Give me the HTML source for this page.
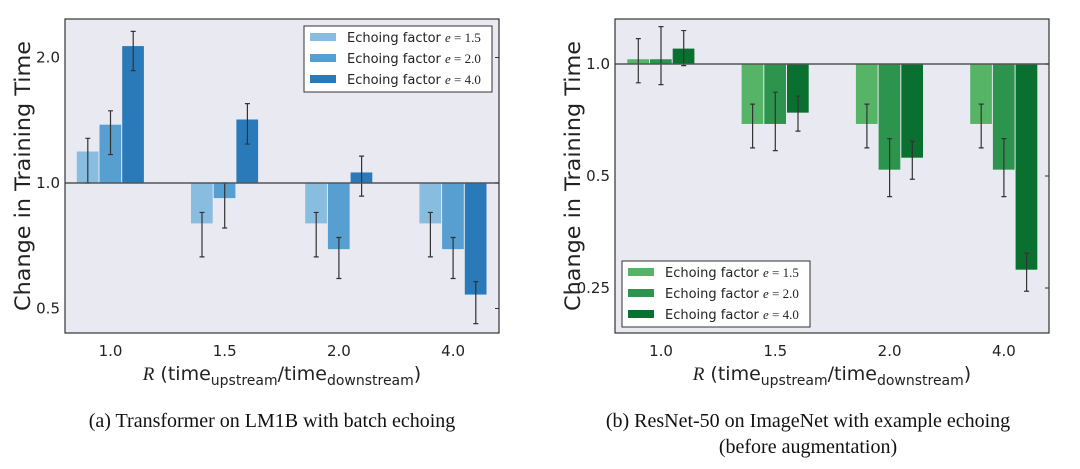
<!DOCTYPE html>
<html><head><meta charset="utf-8"><style>
body{margin:0;background:#fff;width:1080px;height:469px;overflow:hidden}
svg{display:block;font-family:"DejaVu Sans","Liberation Sans",sans-serif}
.cap{font-family:"Liberation Serif",serif;font-size:20px;fill:#111}
</style></head><body>
<svg id="fig" width="1080" height="469"></svg>
<script>
const categories=["1.0","1.5","2.0","4.0"];
const seriesNames=["e = 1.5","e = 2.0","e = 4.0"];
const leftVals=[[1.19,0.80,0.80,0.80],[1.38,0.92,0.694,0.694],[2.13,1.42,1.06,0.54]];
const leftLo=[[1.0,0.665,0.665,0.665],[1.17,0.78,0.59,0.59],[1.86,1.24,0.93,0.46]];
const leftHi=[[1.28,0.85,0.85,0.85],[1.49,1.0,0.74,0.74],[2.31,1.55,1.16,0.58]];
const rightVals=[[1.03,0.69,0.69,0.69],[1.03,0.69,0.52,0.52],[1.10,0.74,0.56,0.28]];
const rightLo=[[0.89,0.595,0.595,0.595],[0.88,0.585,0.44,0.44],[0.99,0.66,0.49,0.245]];
const rightHi=[[1.17,0.78,0.78,0.78],[1.26,0.84,0.63,0.63],[1.23,0.82,0.62,0.31]];
const leftTicks=[0.5,1.0,2.0];
const rightTicks=[0.25,0.5,1.0];
const NS="http://www.w3.org/2000/svg";
const svg=document.getElementById("fig");
function el(t,a,p){const e=document.createElementNS(NS,t);for(const k in a)e.setAttribute(k,a[k]);(p||svg).appendChild(e);return e;}
function panel(o){
  const g=el("g",{});
  
  
  const y=v=>o.y1-Math.log2(v)*o.unit;
  el("rect",{x:o.x0,y:19,width:o.x1-o.x0,height:314,fill:"#e9e9f1"},g);
  for(let s=0;s<3;s++)for(let c=0;c<4;c++){
    const cx=o.cx0+c*o.gs+(s-1)*22.7;
    const v=o.vals[s][c],ty=y(v),by=y(1);
    const r=el("rect",{x:cx-11,y:Math.min(ty,by),width:21.7,height:Math.abs(by-ty),fill:o.colors[s]},g);
    
    
    const yl=y(o.lo[s][c]),yh=y(o.hi[s][c]);
    const eb=el("path",{d:`M${cx} ${yh}V${yl}M${cx-2.5} ${yh}H${cx+2.5}M${cx-2.5} ${yl}H${cx+2.5}`,stroke:"#333",fill:"none","stroke-width":1.2},g);
    
    
  }
  el("line",{x1:o.x0,x2:o.x1,y1:y(1),y2:y(1),stroke:"#555","stroke-width":1.5},g);
  el("rect",{x:o.x0,y:19,width:o.x1-o.x0,height:314,fill:"none",stroke:"#333","stroke-width":1.2},g);
  o.ticks.forEach(t=>{
    const ty=y(t);
    const tl=el("text",{x:o.x0-5,y:ty+5,"text-anchor":"end","font-size":15,fill:"#222"},g);
    tl.textContent=t===0.25?"0.25":t.toFixed(1);
    
    
    el("line",{x1:o.x1-4,x2:o.x1,y1:ty,y2:ty,stroke:"#333"},g);
  });
  categories.forEach((c,i)=>{
    const t=el("text",{x:o.cx0+i*o.gs,y:356,"text-anchor":"middle","font-size":15,fill:"#222"},g);
    t.textContent=c;
    
    
  });
  const yl=el("text",{transform:`translate(${o.x0-35},176) rotate(-90)`,"text-anchor":"middle","font-size":21,textLength:270,lengthAdjust:"spacingAndGlyphs",fill:"#222"},g);
  yl.textContent="Change in Training Time";
  
  
  const xl=el("text",{x:(o.x0+o.x1)/2,y:380,"text-anchor":"middle","font-size":19,fill:"#222"},g);
  xl.innerHTML='<tspan font-family="Liberation Serif" font-style="italic">R</tspan> (time<tspan font-size="14" dy="5">upstream</tspan><tspan dy="-5">/time</tspan><tspan font-size="14" dy="5">downstream</tspan><tspan dy="-5">)</tspan>';
  
  
  const lg=el("g",{},g);
  
  
  el("rect",{x:o.lx,y:o.ly,width:188,height:66,fill:"#fff",stroke:"#333","stroke-width":1},lg);
  for(let s=0;s<3;s++){
    const ey=o.ly+11+s*21;
    el("rect",{x:o.lx+6,y:ey-4,width:26,height:8,fill:o.colors[s]},lg);
    const t=el("text",{x:o.lx+43,y:ey+5,"font-size":13,fill:"#222"},lg);
    t.innerHTML='Echoing factor <tspan font-family="Liberation Serif" font-style="italic">e</tspan><tspan font-family="Liberation Serif"> = '+seriesNames[s].split("= ")[1]+'</tspan>';
    
    
  }
  const cap=el("text",{x:o.capx,y:427,"text-anchor":"middle",class:"cap"},g);
  cap.textContent=o.cap;
  
  
  if(o.cap2){const c2=el("text",{x:o.capx,y:453,"text-anchor":"middle",class:"cap"},g);c2.textContent=o.cap2;
    
    }
}
panel({name:"left-chart",x0:65,x1:499,y1:183,unit:125.5,cx0:110.5,gs:114.2,vals:leftVals,lo:leftLo,hi:leftHi,ticks:leftTicks,
  colors:["#89bde0","#569fd0","#2a7aba"],lx:304,ly:26,capx:272,cap:"(a) Transformer on LM1B with batch echoing"});
panel({name:"right-chart",x0:615,x1:1049,y1:64,unit:112,cx0:661,gs:114.3,vals:rightVals,lo:rightLo,hi:rightHi,ticks:rightTicks,
  colors:["#56b466","#2c944c","#097030"],lx:622,ly:261,capx:808,cap:"(b) ResNet-50 on ImageNet with example echoing",cap2:"(before augmentation)"});
</script>
</body></html>
